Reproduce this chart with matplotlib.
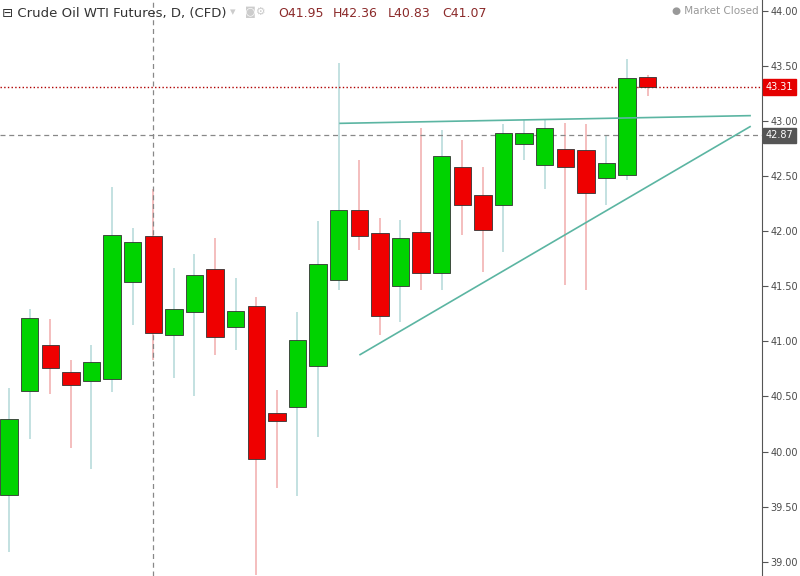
import matplotlib.pyplot as plt
from matplotlib.patches import Rectangle

opens  = [39.61, 40.55, 40.97, 40.72, 40.64, 40.66, 41.54, 41.96, 41.06, 41.27, 41.66, 41.13,
          41.32, 40.35, 40.40, 40.78, 41.56, 42.19, 41.98, 41.50, 41.99, 41.62, 42.58, 42.33,
          42.24, 42.79, 42.60, 42.75, 42.74, 42.48, 42.51, 43.40]
closes = [40.30, 41.21, 40.76, 40.60, 40.81, 41.97, 41.90, 41.08, 41.29, 41.60, 41.04, 41.28,
          39.93, 40.28, 41.01, 41.70, 42.19, 41.96, 41.23, 41.94, 41.62, 42.68, 42.24, 42.01,
          42.89, 42.89, 42.94, 42.58, 42.35, 42.62, 43.39, 43.31]
highs  = [40.58, 41.29, 41.20, 40.83, 40.97, 42.40, 42.03, 42.38, 41.67, 41.79, 41.94, 41.58,
          41.40, 40.56, 41.27, 42.09, 43.53, 42.65, 42.12, 42.10, 42.94, 42.92, 42.83, 42.58,
          42.97, 43.01, 43.01, 42.98, 42.97, 42.87, 43.56, 43.42]
lows   = [39.09, 40.11, 40.52, 40.03, 39.84, 40.54, 41.15, 40.83, 40.67, 40.50, 40.88, 40.92,
          38.88, 39.67, 39.60, 40.13, 41.47, 41.83, 41.06, 41.18, 41.47, 41.47, 41.97, 41.63,
          41.81, 42.65, 42.38, 41.51, 41.47, 42.24, 42.47, 43.23]
price_ticks = [39.0, 39.5, 40.0, 40.5, 41.0, 41.5, 42.0, 42.5, 43.0, 43.5, 44.0]
top_line = ([16.07, 35.97], [42.98, 43.05])
rise_line = ([17.04, 35.97], [40.88, 42.95])
last_price = 43.31
marker_price = 42.87

fig = plt.figure(figsize=(8, 5.76), dpi=100)
ax = fig.add_axes([0, 0, 762 / 800, 1])
ax.set_xlim(-0.44, 36.55)
ax.set_ylim(38.87, 44.10)

for i in range(len(opens)):
    up = closes[i] >= opens[i]
    body = '#00d300' if up else '#ef0000'
    wick = '#b9dcdc' if up else '#f2b3b3'
    ax.vlines(i, lows[i], highs[i], color=wick, lw=1.2, zorder=2)
    lo, hi = min(opens[i], closes[i]), max(opens[i], closes[i])
    ax.add_patch(Rectangle((i - 0.42, lo), 0.84, max(hi - lo, 0.02), facecolor=body,
                           edgecolor='#333333', lw=0.6, zorder=3))

ax.plot(*top_line, color='#5bb5a2', lw=1.2, zorder=4)
ax.plot(*rise_line, color='#5bb5a2', lw=1.2, zorder=4)
ax.axhline(last_price, color='#b00000', ls=':', lw=1)
ax.axhline(marker_price, color='#888888', ls=(0, (4, 3)), lw=0.9)
ax.axvline(7, color='#888888', ls=(0, (4, 3)), lw=0.9)

ax.yaxis.tick_right()
ax.set_yticks(price_ticks)
ax.set_yticklabels([f'{p:.2f}' for p in price_ticks], fontsize=7, color='#4a4a4a')
ax.tick_params(axis='y', length=4, color='#555555', pad=2)
ax.set_xticks([])
for s in ['top', 'left', 'bottom']:
    ax.spines[s].set_visible(False)
ax.spines['right'].set_color('#555555')

for price, col in [(last_price, '#e50000'), (marker_price, '#555555')]:
    ax.text(1.005, price, f'{price:.2f}', transform=ax.get_yaxis_transform(), fontsize=7,
            color='white', va='center', ha='left',
            bbox=dict(boxstyle='square,pad=0.3', fc=col, ec=col))

ax.text(0.003, 0.988, '⊟ Crude Oil WTI Futures, D, (CFD)', transform=ax.transAxes,
        fontsize=9.5, color='#333333', va='top')
ax.text(0.302, 0.988, '▾', transform=ax.transAxes, fontsize=8, color='#cccccc', va='top')
ax.text(0.322, 0.988, '◙⚙', transform=ax.transAxes, fontsize=8, color='#cccccc', va='top')
ohlc = [('O', 41.95, 0.365), ('H', 42.36, 0.437), ('L', 40.83, 0.509), ('C', 41.07, 0.581)]
for k, v, x in ohlc:
    ax.text(x, 0.988, f'{k}{v:.2f}', transform=ax.transAxes, fontsize=9,
            color='#8b2a2a', va='top')
ax.text(0.995, 0.99, '● Market Closed', transform=ax.transAxes, fontsize=7.5,
        color='#999999', va='top', ha='right')

fig.savefig('out.png', dpi=100)
